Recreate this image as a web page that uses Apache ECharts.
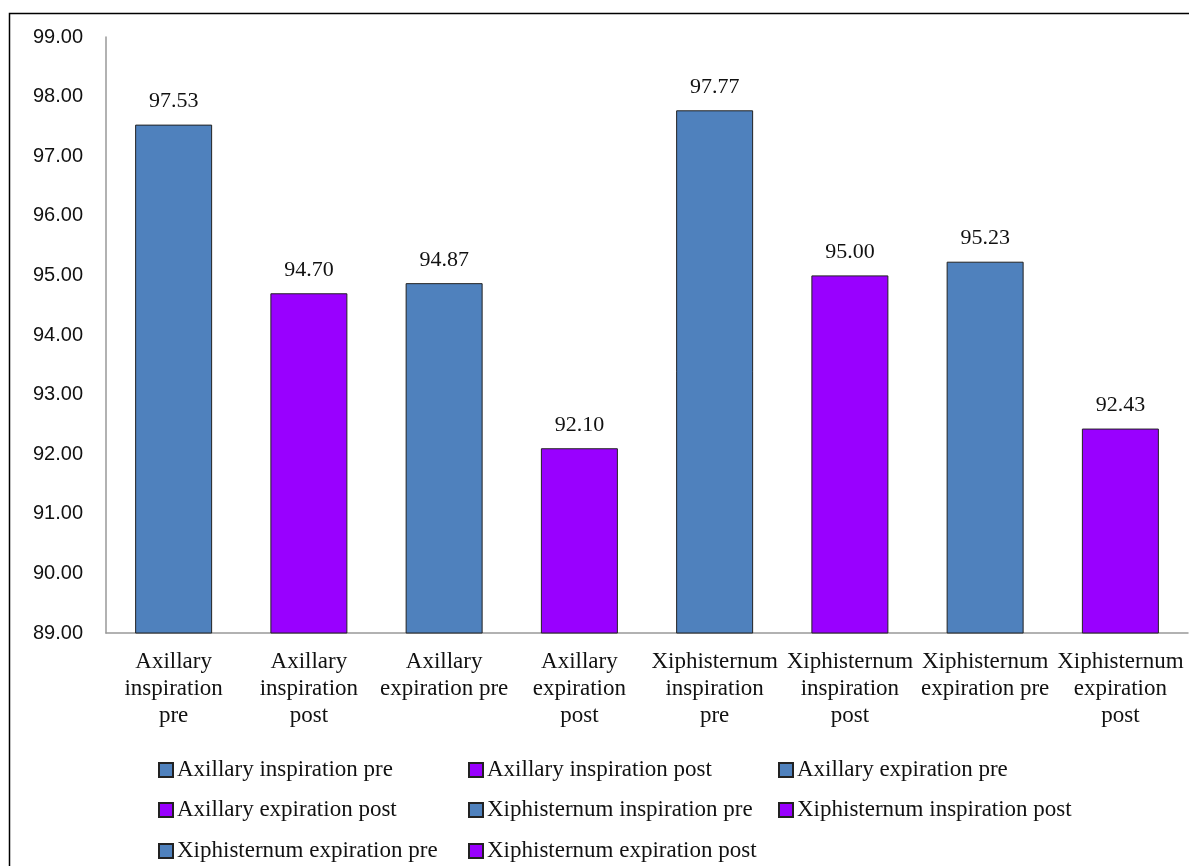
<!DOCTYPE html>
<html>
<head>
<meta charset="utf-8">
<script src="https://cdn.jsdelivr.net/npm/echarts@6/dist/echarts.min.js"></script>
<style>
html,body{margin:0;padding:0;background:#fff;}
#c{width:1189px;height:866px;}
</style>
</head>
<body>
<div id="c"></div>
<script>
const categories = ["Axillary inspiration pre","Axillary inspiration post","Axillary expiration pre","Axillary expiration post","Xiphisternum inspiration pre","Xiphisternum inspiration post","Xiphisternum expiration pre","Xiphisternum expiration post"];
const tickLabels = ["Axillary\ninspiration\npre","Axillary\ninspiration\npost","Axillary\nexpiration pre","Axillary\nexpiration\npost","Xiphisternum\ninspiration\npre","Xiphisternum\ninspiration\npost","Xiphisternum\nexpiration pre","Xiphisternum\nexpiration\npost"];
const values = [97.53, 94.70, 94.87, 92.10, 97.77, 95.00, 95.23, 92.43];
const colors = ["#4F81BD","#9900FF","#4F81BD","#9900FF","#4F81BD","#9900FF","#4F81BD","#9900FF"];
const legendPos = [[158,770],[468,770],[778,770],[158,810],[468,810],[778,810],[158,851],[468,851]];

const serif = "'Liberation Serif','Times New Roman',serif";
const sans = "'Liberation Sans',Arial,sans-serif";

const series = categories.map((name, i) => ({
  name: name,
  type: 'bar',
  barWidth: 77,
  barGap: '-100%',
  data: tickLabels.map((t, j) => j === i ? values[i] : '-'),
  itemStyle: { color: colors[i], borderColor: '#222', borderWidth: 1 },
  label: {
    show: true, position: 'top', distance: 12,
    fontFamily: serif, fontSize: 22, color: '#111',
    formatter: p => Number(p.value).toFixed(2)
  }
}));

const legends = categories.map((name, i) => ({
  data: [name],
  left: legendPos[i][0],
  top: legendPos[i][1] - 12,
  padding: 0,
  itemWidth: 14, itemHeight: 14, itemGap: 0,
  icon: 'rect',
  selectedMode: false,
  textStyle: { fontFamily: serif, fontSize: 23, color: '#111', lineHeight: 24, padding: [0,0,0,-1] }
}));

const chart = echarts.init(document.getElementById('c'), null, {renderer: 'canvas'});
chart.setOption({
  animation: false,
  backgroundColor: '#fff',
  graphic: [{
    type: 'rect', left: 7, top: 11, silent: true,
    shape: { width: 1200, height: 900 },
    style: { fill: 'none', stroke: '#000', lineWidth: 1.5 }
  }],
  grid: { left: 106, right: 1, top: 37, bottom: 233, containLabel: false },
  legend: legends,
  xAxis: {
    type: 'category',
    data: tickLabels,
    axisLine: { lineStyle: { color: '#999', width: 1.5 } },
    axisTick: { show: false },
    axisLabel: { fontFamily: serif, fontSize: 23, color: '#111', lineHeight: 27, margin: 15, interval: 0 }
  },
  yAxis: {
    type: 'value', min: 89, max: 99, interval: 1,
    axisLine: { show: true, lineStyle: { color: '#999', width: 1.5 } },
    axisTick: { show: false },
    splitLine: { show: false },
    axisLabel: { fontFamily: sans, fontSize: 20, color: '#111', margin: 23, formatter: v => v.toFixed(2) }
  },
  series: series
});
</script>
</body>
</html>
